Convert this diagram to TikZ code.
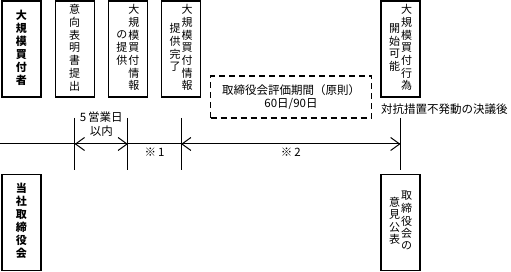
\documentclass[tikz,border=0pt]{standalone}
\usepackage{fontspec}
\setmainfont{Noto Sans CJK JP}
\usepackage{tikz}
\usetikzlibrary{positioning,arrows.meta,calc}

\newcommand{\tate}[1]{\begin{tabular}[c]{@{}c@{}}#1\end{tabular}}

\begin{document}
\begin{tikzpicture}[x=1pt, y=1pt, node distance=13pt, font=\fontsize{11}{12}\selectfont]
    % Styles
    \tikzstyle{actor} = [rectangle, draw=black, line width=1.2pt, minimum width=39pt, minimum height=96pt,
                         inner sep=0pt, font=\fontsize{11}{12.4}\selectfont\bfseries]
    \tikzstyle{event} = [rectangle, draw=black, line width=1.2pt, minimum width=39pt, minimum height=96pt,
                         inner sep=0pt]
    \tikzstyle{period} = [rectangle, draw=black, line width=1.2pt, dash pattern=on 6pt off 4pt,
                          minimum width=161pt, minimum height=42pt, align=center,
                          font=\fontsize{11.5}{12.5}\selectfont]
    \tikzstyle{timeline} = [line width=1pt]
    \tikzstyle{arrow} = [line width=1pt, <->, >={Straight Barb[length=9pt,width=13pt]}]
    \tikzstyle{note} = [font=\fontsize{11.5}{14}\selectfont, align=center]

    \useasboundingbox (0,0) rectangle (511,272);

    % Boxes (vertical text, right column first)
    \node (buyer) [actor] at (21.5,223) {\tate{大\\規\\模\\買\\付\\者}};
    \node (intent) [event, right=of buyer] {\tate{意\\向\\表\\明\\書\\提\\出}};
    \node (info) [event, right=of intent] {\tate{の\\提\\供}\hspace{1pt}\tate{大\\規\\模\\買\\付\\情\\報}};
    \node (done) [event, right=of info] {\tate{提\\供\\完\\了}\hspace{1pt}\tate{大\\規\\模\\買\\付\\情\\報}};
    \node (start) [event] at (400.5,223) {\tate{開\\始\\可\\能}\hspace{1pt}\tate{大\\規\\模\\買\\付\\行\\為}};
    \node (board) [actor, below=76pt of buyer] {\tate{当\\社\\取\\締\\役\\会}};
    \node (opinion) [event, below=76pt of start] {\tate{意\\見\\公\\表}\hspace{1pt}\tate{取\\締\\役\\会\\の}};
    \node (review) [period] at (291,175) {取締役会評価期間（原則）\\60日/90日};
    \node (resolve) [note, below=3pt of start.south west, anchor=north west, inner xsep=0.5pt] {対抗措置不発動の決議後};

    % Timeline
    \coordinate (line) at (0,128);
    \draw [timeline] (line) -- (start |- line);
    \foreach \n in {intent,info,done,start}
        \draw [timeline] ($(\n |- line)+(0,26)$) -- ($(\n |- line)+(0,-26)$);

    % Arrows
    \draw [arrow] (intent |- line) -- node (within) [note, above, yshift=4pt] {5\,営業日\\以内} (info |- line);
    \path (info |- line) -- node (note1) [note, below] {※\,1} (done |- line);
    \draw [arrow] (done |- line) -- node (note2) [note, below] {※\,2} (start |- line);

\end{tikzpicture}
\end{document}
